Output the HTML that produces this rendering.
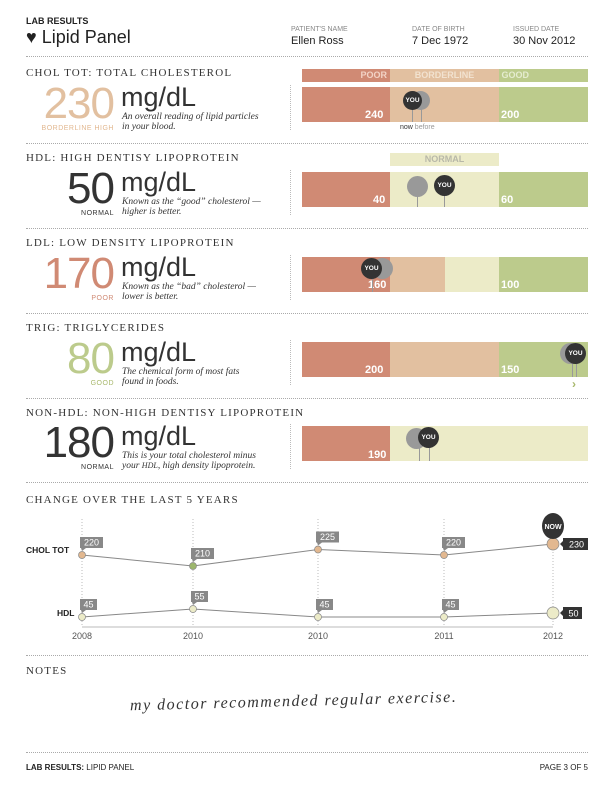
<!DOCTYPE html>
<html><head><meta charset="utf-8"><style>
body{margin:0;background:#fff;width:612px;height:792px;position:relative;font-family:"Liberation Sans",sans-serif;color:#222;overflow:hidden}
.a{position:absolute}
.dot{position:absolute;left:26px;width:562px;border-top:1px dotted #aaa;height:0}
.ttl{position:absolute;left:26px;font-family:"Liberation Serif",serif;font-size:11px;letter-spacing:1.2px;color:#333}
.big{position:absolute;left:20px;font-size:44px;line-height:44px;font-weight:300;letter-spacing:-1px;width:94px;text-align:right}
.unit{position:absolute;left:121px;font-size:27px;line-height:30px;font-weight:300;color:#333}
.desc{position:absolute;left:122px;font-family:"Liberation Serif",serif;font-style:italic;font-size:9.5px;line-height:10px;color:#333}
.lab{position:absolute;width:90px;left:24px;text-align:right;font-size:7px;letter-spacing:.5px}
.seg{position:absolute;height:35px}
.num{position:absolute;color:#fff;font-weight:bold;font-size:11px}
.pin{position:absolute;border-radius:50%;width:19px;height:19px;color:#fff;font-size:6.5px;font-weight:bold;text-align:center;line-height:19px}
.stem{position:absolute;width:1px;background:#999}
.vd{position:absolute;left:290px;width:0;border-left:1px dotted #bbb}
.hi{position:absolute;font-size:9px;color:#555}
.hv{position:absolute;font-size:11px}
</style></head><body>
<div class="a" style="left:26px;top:16px;font-size:9px;font-weight:bold">LAB RESULTS</div>
<div class="a" style="left:26px;top:27px;font-size:18px">♥ Lipid Panel</div>
<div class="hi a" style="left:291px;top:26px;font-size:7px;color:#888">PATIENT'S NAME</div>
<div class="hv" style="left:291px;top:35px">Ellen Ross</div>
<div class="hi a" style="left:412px;top:26px;font-size:7px;color:#888">DATE OF BIRTH</div>
<div class="hv" style="left:412px;top:35px">7 Dec 1972</div>
<div class="hi a" style="left:513px;top:26px;font-size:7px;color:#888">ISSUED DATE</div>
<div class="hv" style="left:513px;top:35px">30 Nov 2012</div>
<div class="dot" style="top:56px"></div>

<!-- CHOL -->
<div class="ttl" style="top:67px">CHOL TOT: TOTAL CHOLESTEROL</div>
<div class="big" style="top:82px;color:#e2c0a0">230</div>
<div class="lab" style="top:125px;color:#e2b890">BORDERLINE HIGH</div>
<div class="unit" style="top:82px">mg/dL</div>
<div class="desc" style="top:112px">An overall reading of lipid particles<br>in your blood.</div>
<div class="vd" style="top:85px;height:45px"></div>
<div class="seg" style="left:302px;top:69px;width:88px;height:13px;background:#d08a74;color:#f2d3c6;font-size:9px;font-weight:bold;text-align:right;line-height:13px"><span style="padding-right:3px">POOR</span></div>
<div class="seg" style="left:390px;top:69px;width:109px;height:13px;background:#e2c0a0;color:#f2e2d0;font-size:9px;font-weight:bold;text-align:center;line-height:13px">BORDERLINE</div>
<div class="seg" style="left:499px;top:69px;width:89px;height:13px;background:#bccb8c;color:#e5ecd0;font-size:9px;font-weight:bold;line-height:13px">&nbsp;GOOD</div>
<div class="seg" style="left:302px;top:87px;width:88px;background:#d08a74"></div>
<div class="seg" style="left:390px;top:87px;width:109px;background:#e2c0a0"></div>
<div class="seg" style="left:499px;top:87px;width:89px;background:#bccb8c"></div>
<div class="num" style="left:365px;top:109px">240</div>
<div class="num" style="left:501px;top:109px">200</div>
<div class="stem" style="left:421px;top:105px;height:17px"></div>
<div class="stem" style="left:412px;top:105px;height:17px"></div>
<div class="pin" style="left:411px;top:91px;background:#999"></div>
<div class="pin" style="left:403px;top:91px;background:#333">YOU</div>
<div class="a" style="left:400px;top:124px;font-size:7px;color:#333">now <span style="color:#999">before</span></div>
<div class="dot" style="top:143px"></div>

<!-- HDL -->
<div class="ttl" style="top:152px">HDL: HIGH DENTISY LIPOPROTEIN</div>
<div class="big" style="top:167px;color:#333">50</div>
<div class="lab" style="top:210px;color:#333">NORMAL</div>
<div class="unit" style="top:167px">mg/dL</div>
<div class="desc" style="top:197px">Known as the “good” cholesterol —<br>higher is better.</div>
<div class="vd" style="top:170px;height:45px"></div>
<div class="seg" style="left:390px;top:153px;width:109px;height:13px;background:#ecebc8;color:#b8b8a8;font-size:9px;font-weight:bold;text-align:center;line-height:13px">NORMAL</div>
<div class="seg" style="left:302px;top:172px;width:88px;background:#d08a74"></div>
<div class="seg" style="left:390px;top:172px;width:109px;background:#ecebc8"></div>
<div class="seg" style="left:499px;top:172px;width:89px;background:#bccb8c"></div>
<div class="num" style="left:373px;top:194px">40</div>
<div class="num" style="left:501px;top:194px">60</div>
<div class="stem" style="left:417px;top:190px;height:17px"></div>
<div class="stem" style="left:444px;top:190px;height:17px"></div>
<div class="pin" style="left:407px;top:176px;background:#999;width:21px;height:21px"></div>
<div class="pin" style="left:434px;top:175px;background:#333;width:21px;height:21px;line-height:21px">YOU</div>
<div class="dot" style="top:228px"></div>

<!-- LDL -->
<div class="ttl" style="top:237px">LDL: LOW DENSITY LIPOPROTEIN</div>
<div class="big" style="top:252px;color:#d08a74">170</div>
<div class="lab" style="top:295px;color:#d08a74">POOR</div>
<div class="unit" style="top:252px">mg/dL</div>
<div class="desc" style="top:282px">Known as the “bad” cholesterol —<br>lower is better.</div>
<div class="vd" style="top:255px;height:45px"></div>
<div class="seg" style="left:302px;top:257px;width:88px;background:#d08a74"></div>
<div class="seg" style="left:390px;top:257px;width:55px;background:#e2c0a0"></div>
<div class="seg" style="left:445px;top:257px;width:54px;background:#ecebc8"></div>
<div class="seg" style="left:499px;top:257px;width:89px;background:#bccb8c"></div>
<div class="num" style="left:368px;top:279px">160</div>
<div class="num" style="left:501px;top:279px">100</div>
<div class="stem" style="left:372px;top:275px;height:17px"></div>
<div class="pin" style="left:372px;top:258px;background:#999;width:21px;height:21px"></div>
<div class="pin" style="left:361px;top:258px;background:#333;width:21px;height:21px;line-height:21px">YOU</div>
<div class="dot" style="top:313px"></div>

<!-- TRIG -->
<div class="ttl" style="top:322px">TRIG: TRIGLYCERIDES</div>
<div class="big" style="top:337px;color:#bccb8c">80</div>
<div class="lab" style="top:380px;color:#a8b86c">GOOD</div>
<div class="unit" style="top:337px">mg/dL</div>
<div class="desc" style="top:367px">The chemical form of most fats<br>found in foods.</div>
<div class="vd" style="top:340px;height:45px"></div>
<div class="seg" style="left:302px;top:342px;width:88px;background:#d08a74"></div>
<div class="seg" style="left:390px;top:342px;width:109px;background:#e2c0a0"></div>
<div class="seg" style="left:499px;top:342px;width:89px;background:#bccb8c"></div>
<div class="num" style="left:365px;top:364px">200</div>
<div class="num" style="left:501px;top:364px">150</div>
<div class="stem" style="left:572px;top:360px;height:17px"></div>
<div class="stem" style="left:576px;top:360px;height:17px"></div>
<div class="pin" style="left:560px;top:343px;background:#999;width:21px;height:21px"></div>
<div class="pin" style="left:565px;top:343px;background:#333;width:21px;height:21px;line-height:21px">YOU</div>
<div class="a" style="left:572px;top:377px;color:#a8b86c;font-size:12px;font-weight:bold">›</div>
<div class="dot" style="top:398px"></div>

<!-- NON-HDL -->
<div class="ttl" style="top:407px">NON-HDL: NON-HIGH DENTISY LIPOPROTEIN</div>
<div class="big" style="top:421px;color:#333">180</div>
<div class="lab" style="top:464px;color:#333">NORMAL</div>
<div class="unit" style="top:421px">mg/dL</div>
<div class="desc" style="top:451px">This is your total cholesterol minus<br>your <span style="font-size:8px">HDL</span>, high density lipoprotein.</div>
<div class="vd" style="top:424px;height:45px"></div>
<div class="seg" style="left:302px;top:426px;width:88px;background:#d08a74"></div>
<div class="seg" style="left:390px;top:426px;width:198px;background:#ecebc8"></div>
<div class="num" style="left:368px;top:449px">190</div>
<div class="stem" style="left:419px;top:444px;height:17px"></div>
<div class="stem" style="left:429px;top:444px;height:17px"></div>
<div class="pin" style="left:406px;top:428px;background:#999;width:21px;height:21px"></div>
<div class="pin" style="left:418px;top:427px;background:#333;width:21px;height:21px;line-height:21px">YOU</div>
<div class="dot" style="top:482px"></div>

<div class="ttl" style="top:494px">CHANGE OVER THE LAST 5 YEARS</div>
<svg class="a" style="left:0;top:505px" width="612" height="145" id="chart"></svg>

<div class="dot" style="top:655px"></div>
<div class="ttl" style="top:665px">NOTES</div>
<div class="a" style="left:130px;top:693px;font-family:'Liberation Serif',serif;font-style:italic;font-size:16px;letter-spacing:1.5px;color:#333;transform:rotate(-1.5deg)">my doctor recommended regular exercise.</div>
<div class="dot" style="top:752px"></div>
<div class="a" style="left:26px;top:763px;font-size:8px"><b>LAB RESULTS:</b> LIPID PANEL</div>
<div class="a" style="left:520px;top:763px;font-size:8px;width:68px;text-align:right">PAGE 3 OF 5</div>

<script>
const years=["2008","2010","2010","2011","2012"];
const chol=[220,210,225,220,230];
const hdl=[45,55,45,45,50];
const cholColors=["#e2b890","#9cb66c","#e2b890","#e2b890","#e2b890"];
const NS="http://www.w3.org/2000/svg";
const svg=document.getElementById('chart');
const xs=[82,193,318,444,553];
const X=i=>xs[i];
const Ychol=v=>50-(v-220)*1.1;
const Yhdl=v=>112-(v-45)*0.8;
function mk(t,a){const e=document.createElementNS(NS,t);for(const k in a)e.setAttribute(k,a[k]);svg.appendChild(e);return e;}
function txt(x,y,s,a){const e=mk('text',Object.assign({x:x,y:y},a));e.textContent=s;return e;}
let l=mk('line',{x1:82,x2:553,y1:122,y2:122,stroke:'#bbb'});


years.forEach((y,i)=>{
 const g=mk('line',{x1:X(i),x2:X(i),y1:14,y2:122,stroke:'#bbb','stroke-dasharray':'1,2'});
 
 
 const t=txt(X(i),134,y,{'text-anchor':'middle','font-size':9,fill:'#555','font-family':'Liberation Sans'});
 
 
});
txt(26,48,'CHOL TOT',{'font-size':8.5,'font-weight':'bold',fill:'#222','font-family':'Liberation Sans'});
txt(57,111,'HDL',{'font-size':8.5,'font-weight':'bold',fill:'#222','font-family':'Liberation Sans'});
function series(vals,Y,colors,name,lastFill){
 const p=mk('polyline',{points:vals.map((v,i)=>X(i)+','+Y(v)).join(' '),fill:'none',stroke:'#888','stroke-width':1});
 
 
 vals.forEach((v,i)=>{
  const last=i===vals.length-1;
  const c=mk('circle',{cx:X(i),cy:Y(v),r:last?6:3.5,fill:last?lastFill:colors[i],stroke:'#888','stroke-width':.7});
  
  
  const s=String(v);const w=s.length*6+5;
  if(last){
   const r=mk('rect',{x:X(i)+10,y:Y(v)-6,width:w+2,height:12,fill:'#333'});
   
   
   mk('polygon',{points:(X(i)+7)+','+Y(v)+' '+(X(i)+10)+','+(Y(v)-3)+' '+(X(i)+10)+','+(Y(v)+3),fill:'#333'});
   const t=txt(X(i)+12+w/2,Y(v)+3.5,s,{'text-anchor':'middle','font-size':9,fill:'#fff','font-family':'Liberation Sans'});
   
   
  }else{
   const r=mk('rect',{x:X(i)-2,y:Y(v)-18,width:w,height:11,fill:'#888'});
   
   
   mk('polygon',{points:(X(i)-1)+','+(Y(v)-7)+' '+(X(i)+4)+','+(Y(v)-7)+' '+X(i)+','+(Y(v)-4),fill:'#888'});
   const t=txt(X(i)-2+w/2,Y(v)-9.5,s,{'text-anchor':'middle','font-size':9,fill:'#fff','font-family':'Liberation Sans'});
   
   
  }
 });
}
series(chol,Ychol,cholColors,'chol','#e2b890');
series(hdl,Yhdl,["#ecebc8","#ecebc8","#ecebc8","#ecebc8","#ecebc8"],'hdl','#ecebc8');
const nb=mk('ellipse',{cx:553,cy:21,rx:11,ry:13,fill:'#333'});


const nt=txt(553,24,'NOW',{'text-anchor':'middle','font-size':7,'font-weight':'bold',fill:'#fff','font-family':'Liberation Sans'});


</script>
</body></html>
